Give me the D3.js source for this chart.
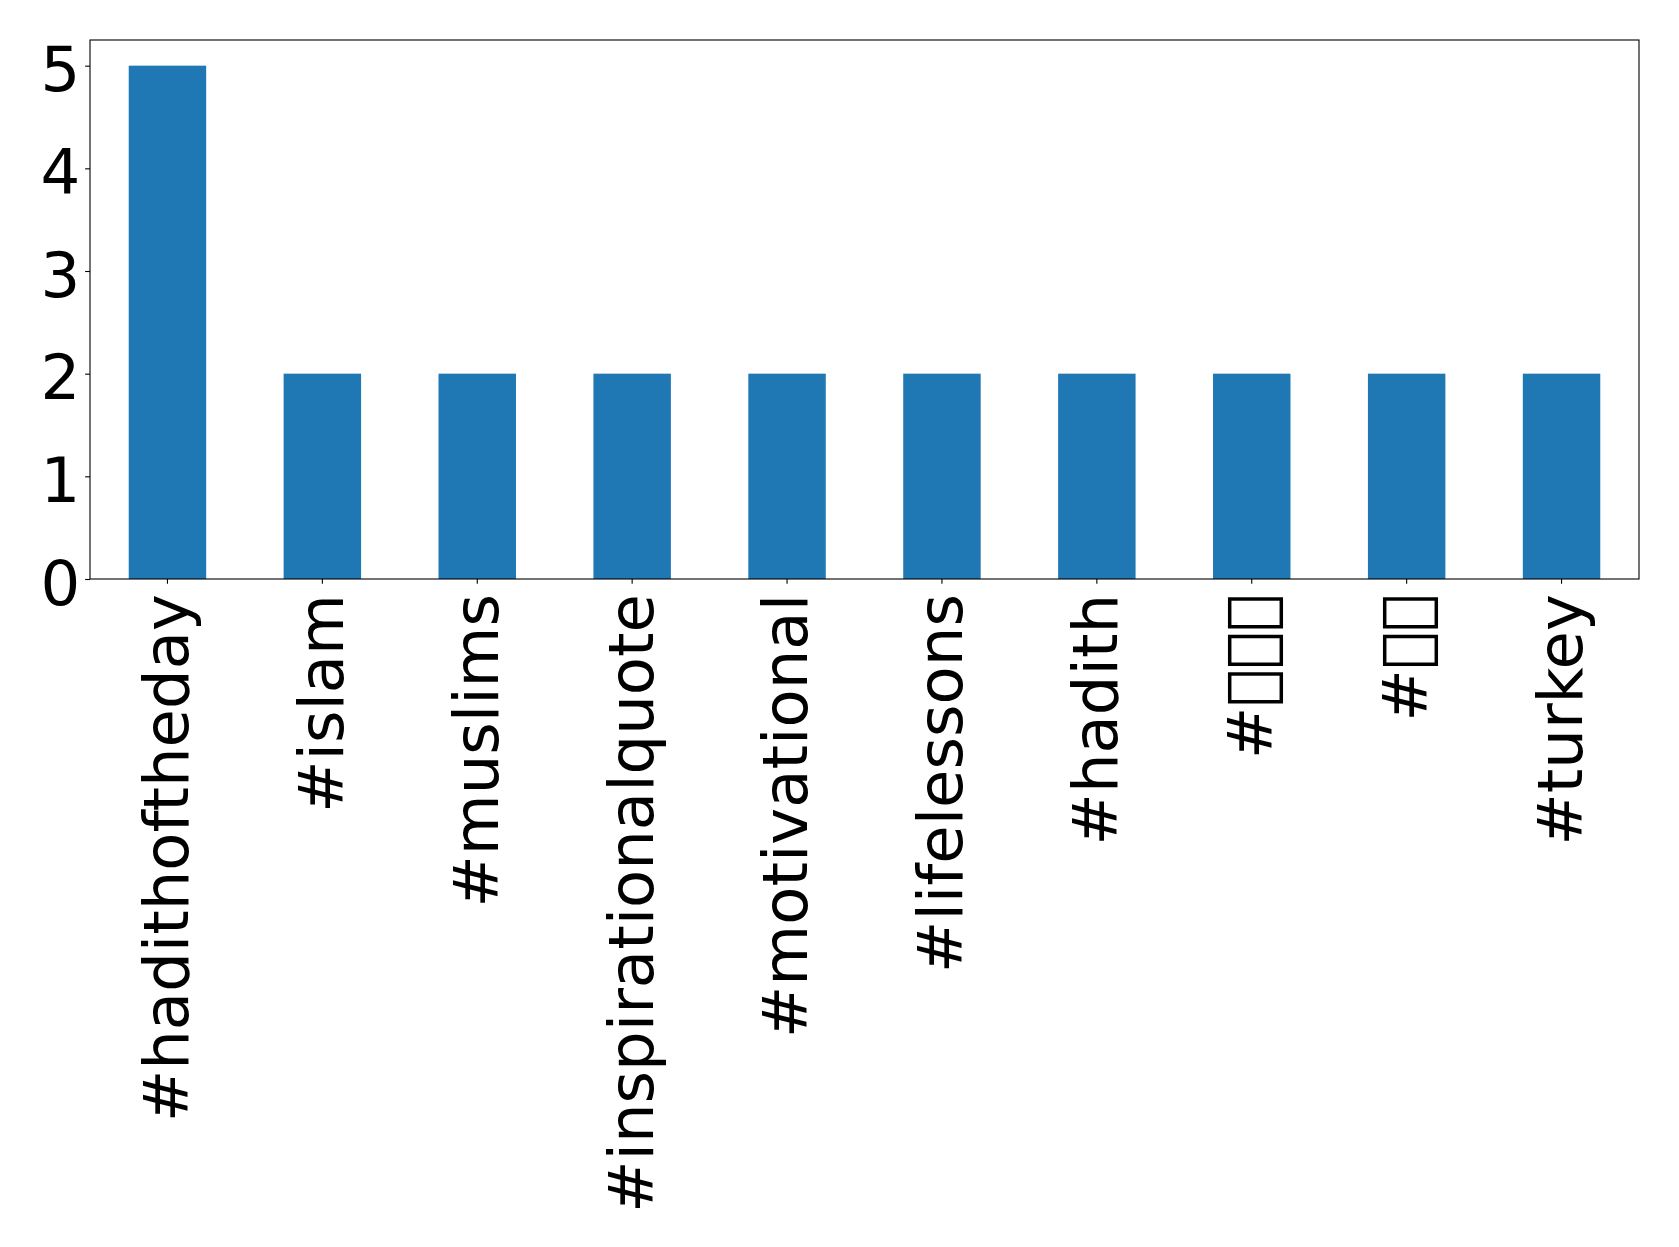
<!DOCTYPE html>
<html>
<head>
<meta charset="utf-8">
<script src="https://cdn.jsdelivr.net/npm/d3@7"></script>
<style>
  html, body { margin: 0; padding: 0; background: #fff; }
  svg { display: block; }
  text { font-family: "DejaVu Sans", sans-serif; fill: #000; }
</style>
</head>
<body>
<svg id="chart" width="1679" height="1247"></svg>
<script>
// The two non-Latin hashtags have glyphs missing from the font (drawn as boxes in the original).
const categories = ["#hadithoftheday", "#islam", "#muslims", "#inspirationalquote", "#motivational",
                    "#lifelessons", "#hadith", "#\uE000\uE001\uE002", "#\uE003\uE004", "#turkey"];
const counts = [5, 2, 2, 2, 2, 2, 2, 2, 2, 2];
const yTicks = [0, 1, 2, 3, 4, 5];

const W = 1679, H = 1247;
const margin = { left: 90, right: 40, top: 40, bottom: 668 };
const plotW = W - margin.left - margin.right;
const plotH = H - margin.top - margin.bottom;
const fontPx = 62.5;
const tickLen = 4.86, pad = 4.86;

const svg = d3.select("#chart");
svg.append("rect").attr("width", W).attr("height", H).attr("fill", "#fff");
const g = svg.append("g").attr("transform", `translate(${margin.left},${margin.top})`);

const x = d3.scaleBand().domain(categories).range([0, plotW]).paddingInner(0.5).paddingOuter(0.25);
const y = d3.scaleLinear().domain([0, 5.25]).range([plotH, 0]);

g.selectAll("rect.bar").data(categories).enter().append("rect")
  .attr("class", "bar")
  .attr("x", d => x(d))
  .attr("width", x.bandwidth())
  .attr("y", (d, i) => y(counts[i]))
  .attr("height", (d, i) => y(0) - y(counts[i]))
  .attr("fill", "#1f77b4");

// frame
g.append("rect").attr("x", 0).attr("y", 0).attr("width", plotW).attr("height", plotH)
  .attr("fill", "none").attr("stroke", "#000").attr("stroke-width", 1.1);

// y axis
const yAxis = d3.axisLeft(y).tickValues(yTicks).tickFormat(d3.format("d")).tickSize(tickLen).tickPadding(pad);
const ya = g.append("g").call(yAxis);
ya.select(".domain").remove();
ya.selectAll(".tick line").attr("stroke", "#000").attr("stroke-width", 1.1);
ya.selectAll(".tick text").style("font-size", fontPx + "px").style("font-family", "DejaVu Sans").attr("dy", "0.405em");

// x axis
const xAxis = d3.axisBottom(x).tickSize(tickLen).tickPadding(pad);
const xa = g.append("g").attr("transform", `translate(0,${plotH})`).call(xAxis);
xa.select(".domain").remove();
xa.selectAll(".tick line").attr("stroke", "#000").attr("stroke-width", 1.1);
xa.selectAll(".tick text")
  .style("font-size", fontPx + "px").style("font-family", "DejaVu Sans")
  .attr("text-anchor", "end")
  .attr("x", 0).attr("y", 0)
  .attr("dy", "0.326em")
  .attr("transform", `translate(0,15) rotate(-90)`);
</script>
</body>
</html>
